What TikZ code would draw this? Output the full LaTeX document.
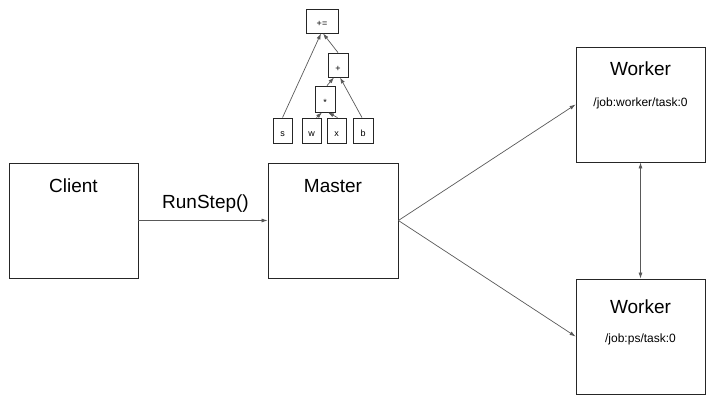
\documentclass[tikz,border=0pt]{standalone}
\usepackage{fontspec}
\setmainfont{Liberation Sans}
\usetikzlibrary{arrows.meta}

\tikzset{
  box/.style={draw=black!85,line width=0.8pt,minimum width=129pt,minimum height=115pt,inner sep=0pt},
  op/.style={draw=black!85,line width=0.8pt,inner sep=0pt,text height=12pt,text depth=0pt,font=\fontsize{9}{10}\selectfont},
  title/.style={anchor=base,font=\fontsize{19}{22}\selectfont},
  task/.style={anchor=base,font=\fontsize{12}{14}\selectfont},
  link/.style={draw=black!65,line width=0.7pt,-{Latex[length=6pt,width=4pt]}},
}

\begin{document}
\begin{tikzpicture}[x=1pt,y=1pt,yscale=-1,xscale=1]
\useasboundingbox (0,0) rectangle (712,404);

% Boxes
\node [box] (client) at (73.5,220.5) {};
\node [box,minimum width=130pt] (master) at (333,220.5) {};
\node [box] (worker) at (640.5,104.5) {};
\node [box] (ps) at (640.5,336.5) {};

% Text Node
\node [title] (clienttext) at (73.5,192) {Client};
% Text Node
\node [title] (mastertext) at (333,192) {Master};
% Text Node
\node [title] (workertext) at (640.5,75) {Worker};
% Text Node
\node [task] (workertask) at (640.5,106) {/job:worker/task:0};
% Text Node
\node [title] (pstext) at (640.5,313) {Worker};
% Text Node
\node [task] (pstask) at (640.5,342) {/job:ps/task:0};
% Text Node
\node [title] (runstep) at (205.5,208) {RunStep()};

% Graph
\node [op,minimum width=32pt,minimum height=24pt] (pluseq) at (322,21) {+=};
\node [op,minimum width=20pt,minimum height=24pt] (plus) at (338,65) {+};
\node [op,minimum width=20pt,minimum height=26pt] (mul) at (325,99) {*};
\node [op,minimum width=19pt,minimum height=25pt] (s) at (282.5,130.5) {s};
\node [op,minimum width=19pt,minimum height=25pt] (w) at (311.5,130.5) {w};
\node [op,minimum width=19pt,minimum height=25pt] (x) at (336.5,130.5) {x};
\node [op,minimum width=20pt,minimum height=25pt] (b) at (363,130.5) {b};

\draw [link] (s.north) -- ([xshift=-1pt]pluseq.south);
\draw [link] (plus.north) -- ([xshift=1pt]pluseq.south);
\draw [link] ([xshift=2pt]mul.north) -- ([xshift=-4pt]plus.south);
\draw [link] ([xshift=-1pt]b.north) -- ([xshift=2pt]plus.south);
\draw [link] ([xshift=5pt]w.north) -- ([xshift=-3pt]mul.south);
\draw [link] ([xshift=1pt]x.north) -- ([xshift=3pt]mul.south);

% Connectors
\draw [link] (client.east) -- (master.west);
\draw [link] (master.east) -- (worker.west);
\draw [link] (master.east) -- (ps.west);
\draw [link,{Latex[length=6pt,width=4pt]}-{Latex[length=6pt,width=4pt]}] (worker.south) -- (ps.north);

\end{tikzpicture}
\end{document}
